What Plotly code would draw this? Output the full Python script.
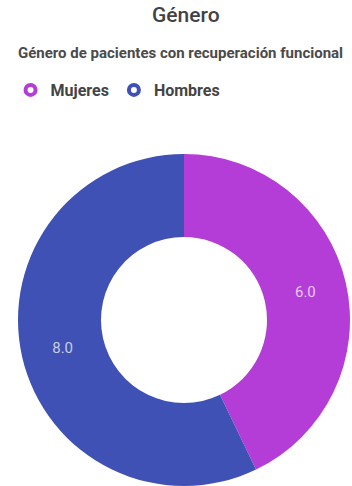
import plotly.graph_objects as go

categories = ["Mujeres", "Hombres"]
values = [6, 8]
colors = ["#B43DD7", "#3F51B5"]

title_text = "Género"
subtitle_text = "Género de pacientes con recuperación funcional"

W, H = 352, 486

fig = go.Figure()

fig.add_trace(go.Pie(
    labels=categories,
    values=values,
    hole=0.5,
    sort=False,
    direction="clockwise",
    rotation=0,
    marker=dict(colors=colors, line=dict(width=0)),
    texttemplate="%{value:.1f}",
    textposition="inside",
    insidetextorientation="horizontal",
    textfont=dict(family="Roboto", size=15, color="rgba(255,255,255,0.72)"),
    hoverinfo="label+value",
    showlegend=False,
    domain=dict(x=[(184 - 166) / W, (184 + 166) / W], y=[0, 332 / H]),
))

for name, col in zip(categories, colors):
    fig.add_trace(go.Scatter(
        x=[None], y=[None], mode="markers", name=name,
        marker=dict(symbol="circle-open", size=10, color=col, line=dict(width=4, color=col)),
        showlegend=True,
    ))

fig.update_layout(
    width=W, height=H,
    margin=dict(l=0, r=0, t=0, b=0),
    paper_bgcolor="white",
    plot_bgcolor="white",
    font=dict(family="Roboto", color="#444444"),
    xaxis=dict(visible=False),
    yaxis=dict(visible=False),
    legend=dict(
        orientation="h",
        x=0.03, xanchor="left",
        y=1 - 90 / H, yanchor="middle",
        font=dict(family="Roboto", size=16, color="#444444", weight="bold"),
        itemwidth=30,
        bgcolor="rgba(0,0,0,0)",
    ),
    annotations=[
        dict(text=title_text, x=186 / W, y=1 - 15 / H, xref="paper", yref="paper",
             xanchor="center", yanchor="middle", showarrow=False,
             font=dict(family="Roboto", size=21, color="#424242", weight=500)),
        dict(text=subtitle_text, x=180 / W, y=1 - 53 / H, xref="paper", yref="paper",
             xanchor="center", yanchor="middle", showarrow=False,
             font=dict(family="Roboto", size=15, color="#4a4a4a", weight="bold")),
    ],
)

fig.write_html("out.html")
